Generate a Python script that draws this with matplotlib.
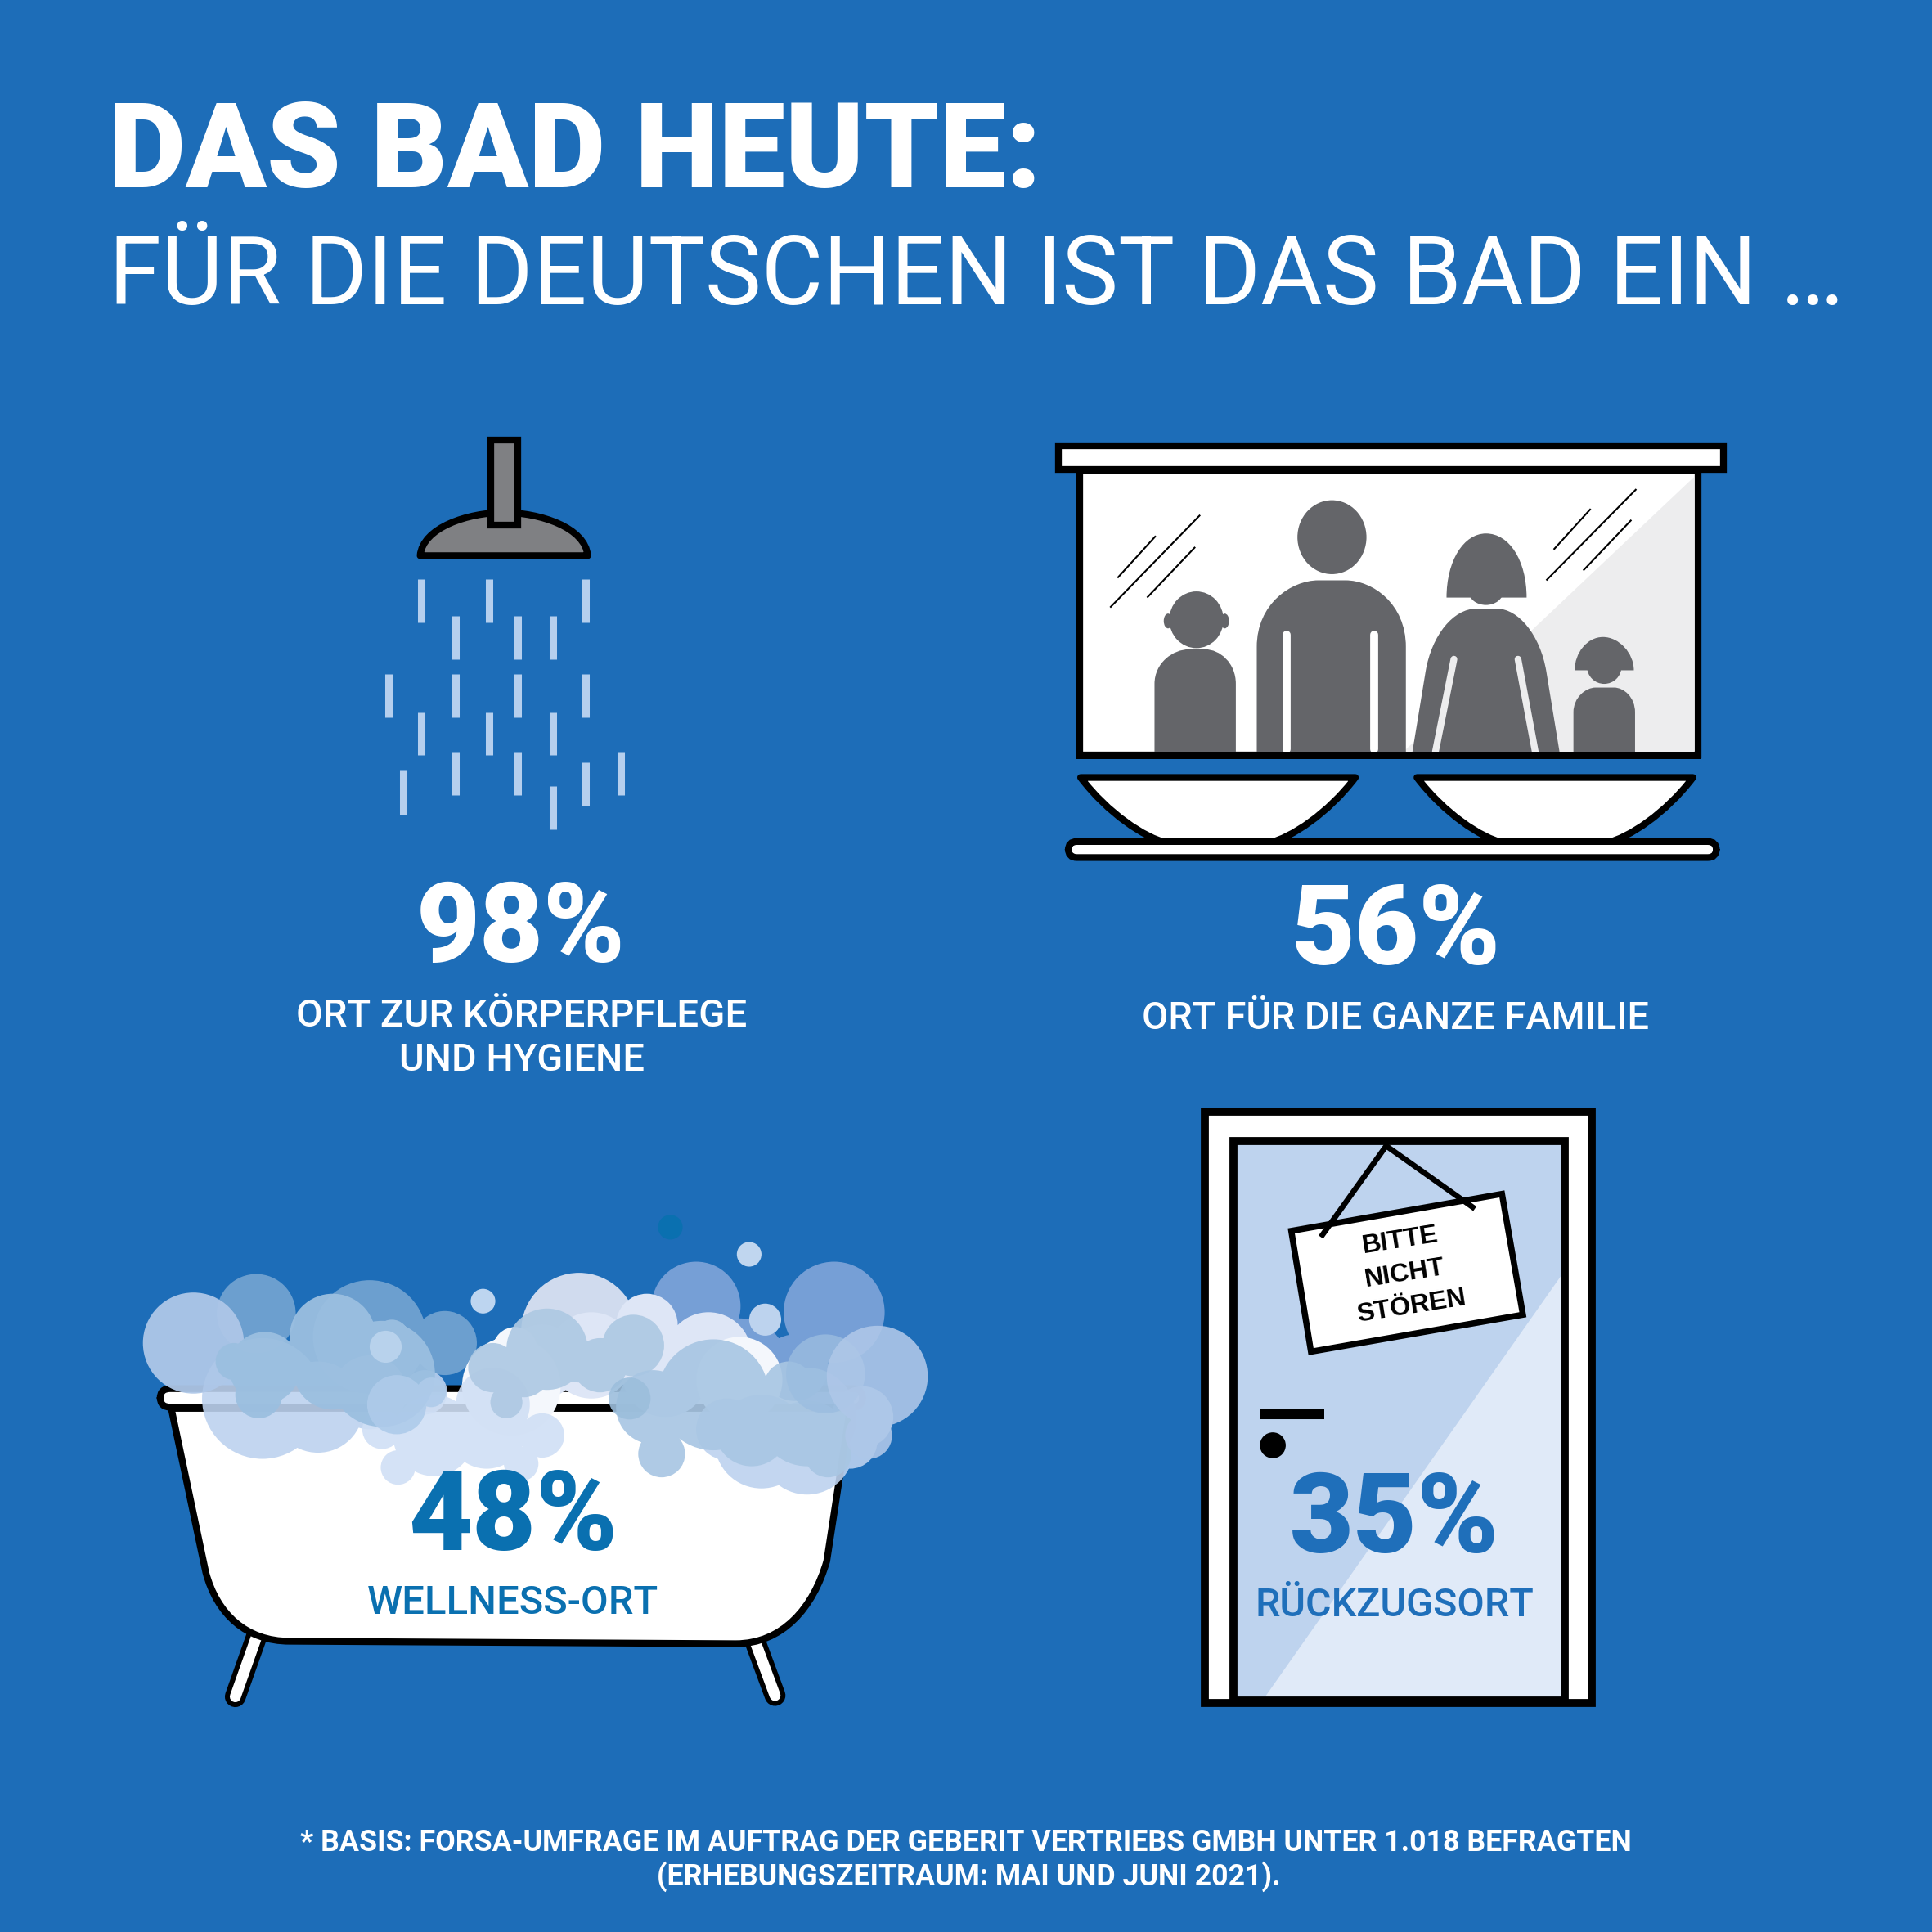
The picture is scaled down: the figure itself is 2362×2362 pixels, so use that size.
import matplotlib
matplotlib.use("Agg")
import matplotlib.pyplot as plt
from matplotlib.patches import Polygon, Ellipse, Rectangle, FancyBboxPatch, PathPatch, Circle
from matplotlib.path import Path

# ---- content -------------------------------------------------------------
percent_values = [98, 56, 48, 35]
category_lines = [["ORT ZUR KÖRPERPFLEGE", "UND HYGIENE"], ["ORT FÜR DIE GANZE FAMILIE"], ["WELLNESS-ORT"], ["RÜCKZUGSORT"]]
title_text = "DAS BAD HEUTE:"
subtitle_text = "FÜR DIE DEUTSCHEN IST DAS BAD EIN …"
footnote_lines = ["* BASIS: FORSA-UMFRAGE IM AUFTRAG DER GEBERIT VERTRIEBS GMBH UNTER 1.018 BEFRAGTEN",
                  "(ERHEBUNGSZEITRAUM: MAI UND JUNI 2021)."]
sign_lines = ["BITTE", "NICHT", "STÖREN"]

BG = "#1D6DB8"
K = "#000000"
GR = "#646569"
S = 2362 / 1568
def pt(w):
    return w * S * 0.72

fig = plt.figure(figsize=(23.62, 23.62), dpi=100, facecolor=BG)
ax = fig.add_axes([0, 0, 1, 1])
ax.set_xlim(0, 1568); ax.set_ylim(1568, 0); ax.axis("off")
rend = fig.canvas.get_renderer()

def fit_text(s, x0, x1, base, color="white", weight="bold", family="Roboto", start=40):
    t = ax.text((x0 + x1) / 2, base, s, color=color, fontweight=weight, family=family,
                ha="center", va="baseline", fontsize=start, zorder=20)
    w = t.get_window_extent(rend).width / S
    t.set_fontsize(start * (x1 - x0) / w)
    return t

def poly(pts, fc, ec="none", lw=0, z=2):
    ax.add_patch(Polygon(pts, closed=True, fc=fc, ec=ec, lw=pt(lw), zorder=z, joinstyle="miter"))

def rect(x0, y0, x1, y1, fc, ec="none", lw=0, z=2):
    ax.add_patch(Rectangle((x0, y0), x1 - x0, y1 - y0, fc=fc, ec=ec, lw=pt(lw), zorder=z, joinstyle="miter"))

def ell(cx, cy, w, h, fc, z=2):
    ax.add_patch(Ellipse((cx, cy), w, h, fc=fc, ec="none", zorder=z))

def line(xs, ys, c=K, w=5, z=3, cap="butt"):
    ax.plot(xs, ys, color=c, lw=pt(w), zorder=z, solid_capstyle=cap)

def curve(verts, codes, fc, ec="none", lw=0, z=2):
    ax.add_patch(PathPatch(Path(verts, codes), fc=fc, ec=ec, lw=pt(lw), zorder=z, joinstyle="round"))

M, L, C, Z = Path.MOVETO, Path.LINETO, Path.CURVE4, Path.CLOSEPOLY
BODY = [M, L, C, C, C, L, C, C, C, L, Z]
DOME = [M, C, C, C, C, C, C, L, Z]

# ---- shower ---------------------------------------------------------------
curve([(341, 451), (343, 428), (380, 416), (409, 416), (438, 416), (475, 428), (477, 451), (341, 451), (341, 451)],
      DOME, "#7F8083", K, 5.5)
rect(398, 357, 420, 426, "#7F8083", K, 5.5, z=3)
drops = [(342,470,505),(397,470,505),(475,470,505),(370,500,535),(420,500,535),(449,500,535),
         (315,547,582),(370,547,582),(420,547,582),(475,547,582),(342,578,613),(397,578,613),
         (449,578,613),(370,610,645),(420,610,645),(504,610,645),(327,625,661),(475,619,654),(449,638,673)]
for x, a, b in drops:
    line([x, x], [a, b], "#B5CFEE", 6)

# ---- mirror and family ----------------------------------------------------
rect(876, 382, 1378, 613, "white", K, 5.5, z=2)
poly([(1375, 387), (1138, 611), (1375, 611)], "#EDEDEE", z=2.1)
rect(859, 362, 1399, 381, "white", K, 5.5, z=6)
for a in [((907,938),(469,435)), ((901,974),(493,418)), ((931,970),(485,444)),
          ((1261,1291),(446,413)), ((1255,1328),(471,397)), ((1285,1324),(463,422))]:
    line(a[0], a[1], K, 1.4)
# father
ell(1081, 436, 56, 60, GR, z=3)
curve([(1020, 612), (1020, 525), (1020, 490), (1048, 471), (1070, 471), (1092, 471), (1114, 471), (1141, 490), (1141, 525), (1141, 612), (1020, 612)],
      BODY, GR, z=3)
for x in (1044, 1115):
    line([x, x], [515, 608], "white", 6.5, z=3.2, cap="round")
# left child
ell(971, 503, 44, 46, GR, z=3)
ell(948, 504, 7, 12, GR, z=3); ell(994, 504, 7, 12, GR, z=3)
curve([(937, 612), (937, 555), (937, 538), (952, 527), (965, 527), (978, 527), (990, 527), (1003, 538), (1003, 555), (1003, 612), (937, 612)],
      BODY, GR, z=3)
# mother
curve([(1174, 485), (1174, 455), (1188, 433), (1206, 433), (1225, 433), (1239, 455), (1239, 485), (1174, 485), (1174, 485)],
      DOME, GR, z=3)
ell(1206, 480, 28, 22, GR, z=3)
curve([(1146, 612), (1157, 545), (1162, 515), (1180, 494), (1198, 494), (1215, 494), (1232, 494), (1250, 515), (1255, 545), (1266, 612), (1146, 612)],
      BODY, GR, z=3)
line([1180, 1165], [535, 610], "#EDEDEE", 5.5, z=3.2, cap="round")
line([1232, 1246], [535, 610], "#EDEDEE", 5.5, z=3.2, cap="round")
# right child
curve([(1278, 544), (1278, 530), (1288, 517), (1301, 517), (1314, 517), (1326, 530), (1326, 544), (1278, 544), (1278, 544)],
      DOME, GR, z=3)
ell(1302, 541, 28, 28, GR, z=3)
curve([(1277, 612), (1277, 578), (1277, 566), (1287, 558), (1295, 558), (1310, 558), (1318, 558), (1327, 566), (1327, 578), (1327, 612), (1277, 612)],
      BODY, GR, z=3)
rect(873, 610, 1381, 616, K, z=4)
# sinks
for x0, x1 in ((877, 1100), (1150, 1374)):
    curve([(x0, 631), (x1, 631), (x1 - 22, 660), (x1 - 52, 680), (x1 - 70, 684), (x0 + 70, 684), (x0 + 52, 680), (x0 + 22, 660), (x0, 631), (x0, 631)],
          [M, L, C, C, C, L, C, C, C, Z], "white", K, 5.5, z=2)
ax.add_patch(FancyBboxPatch((867, 683), 526, 13, boxstyle="round,pad=0,rounding_size=7", fc="white", ec=K, lw=pt(5.5), zorder=4))

# ---- door -----------------------------------------------------------------
rect(978, 902, 1292, 1382, "white", K, 6.5, z=2)
rect(1001, 926, 1270, 1380, "#BED3EE", K, 6.5, z=3)
poly([(1267, 1035), (1267, 1377), (1027, 1377)], "#E0EAF8", z=3.1)
line([1022, 1075], [1148, 1148], K, 8, z=4)
ell(1033, 1173, 21, 21, K, z=4)
poly([(1048, 999), (1219, 969), (1236, 1067), (1064, 1097)], "white", K, 5, z=4)
line([1072, 1125, 1197], [1004, 930, 981], K, 4.5, z=5)
for s, x, y in zip(sign_lines, (1137, 1141, 1146), (1012, 1039, 1066)):
    ax.text(x, y, s, rotation=9, rotation_mode="anchor", ha="center", va="baseline", color=K,
            fontweight="bold", family="Liberation Sans", fontsize=pt(21.5), zorder=6)

# ---- tub ------------------------------------------------------------------
for (xa, ya), (xb, yb) in (((208, 1329), (191, 1377)), ((612, 1330), (629, 1376))):
    line([xa, xb], [ya, yb], K, 17, z=1.5, cap="round")
    line([xa, xb], [ya, yb], "white", 9, z=1.6, cap="round")
curve([(139, 1143), (167, 1276), (176, 1310), (200, 1332), (235, 1332), (597, 1334), (635, 1334), (660, 1305), (671, 1267), (690, 1143), (139, 1143)],
      BODY, "white", K, 5.5, z=2)
ax.add_patch(FancyBboxPatch((130, 1127), 570, 15, boxstyle="round,pad=0,rounding_size=8", fc="white", ec=K, lw=pt(5.5), zorder=2.5))

# foam clouds: each cloud is a merged group of circles (x, y, radius) with one colour
cloud_back_left = [(208, 1066, 32), (300, 1085, 46), (361, 1090, 26)]
cloud_back_right = [(565, 1060, 36), (677, 1065, 41), (645, 1110, 27), (600, 1110, 40)]
cloud_grey_white = [(470, 1080, 47)]
cloud_pale = [(525, 1075, 25), (575, 1100, 35), (440, 1105, 30), (480, 1100, 35), (540, 1115, 35)]
cloud_white_ring = [(415, 1125, 40), (600, 1120, 35), (418, 1095, 18)]
cloud_tub_left = [(213, 1135, 49), (258, 1142, 37), (300, 1130, 30), (345, 1130, 18)]
cloud_tub_mid = [(352, 1165, 33), (395, 1160, 32), (440, 1165, 18), (423, 1188, 14), (323, 1191, 14), (310, 1160, 16), (400, 1140, 30)]
cloud_tub_right = [(618, 1170, 38), (655, 1175, 38), (700, 1150, 25), (690, 1170, 22), (590, 1160, 25)]
cloud_left_big = [(157, 1090, 41)]
cloud_left_main = [(215, 1110, 29), (270, 1085, 35), (270, 1112, 32), (310, 1115, 43), (318, 1085, 14), (210, 1132, 19), (190, 1105, 15)]
cloud_left_low = [(322, 1140, 24), (350, 1130, 12)]
cloud_center = [(444, 1095, 33), (514, 1092, 25), (470, 1107, 15), (400, 1110, 20), (411, 1138, 13), (487, 1108, 22), (425, 1112, 22)]
cloud_right_main = [(579, 1132, 45), (530, 1142, 30), (537, 1180, 19), (655, 1150, 40), (610, 1160, 30), (672, 1180, 19), (640, 1125, 20)]
cloud_right_edge = [(712, 1117, 41), (705, 1165, 19)]
cloud_right_back = [(670, 1115, 32)]
cloud_dark_spot = [(511, 1135, 17)]
cloud_small_light = [(313, 1093, 13)]
cloud_drop_a = [(392, 1056, 10)]
cloud_drop_b = [(608, 1018, 10)]
cloud_drop_c = [(544, 996, 10)]
cloud_drop_d = [(621, 1071, 13)]

clouds = [(cloud_back_left, "#6C9FCF", 1), (cloud_back_right, "#769FD6", 1), (cloud_grey_white, "#D0DBEE", 1),
          (cloud_pale, "#DEE6F6", 1), (cloud_white_ring, "#F4F7FC", 1), (cloud_tub_left, "#BDD2EF", .9),
          (cloud_tub_mid, "#D0DFF5", .9), (cloud_tub_right, "#BDD2EF", .9), (cloud_left_big, "#AEC7E8", .95),
          (cloud_left_main, "#9BBFE0", .95), (cloud_left_low, "#AECBEA", .9), (cloud_center, "#AEC9E3", .92),
          (cloud_right_main, "#A8C6E3", .92), (cloud_right_back, "#9BBDE0", .8), (cloud_right_edge, "#AEC7E8", .9),
          (cloud_dark_spot, "#9CBEDC", .9), (cloud_small_light, "#B8D2EC", 1), (cloud_drop_a, "#BDD5F0", 1),
          (cloud_drop_b, "#C0D6EF", 1), (cloud_drop_c, "#0A70B0", 1), (cloud_drop_d, "#BDD3EE", 1)]
for i, (cl, col, al) in enumerate(clouds):
    paths = [Path.circle((x, y), r) for x, y, r in cl]
    ax.add_patch(PathPatch(Path.make_compound_path(*paths), fc=col, ec="none", alpha=al, zorder=7 + i * 0.01))

# ---- texts ----------------------------------------------------------------
fit_text(title_text, 88, 845, 152, weight="black", start=100)
fit_text(subtitle_text, 88, 1497, 247, weight="normal", start=90)
pct_spec = [(338, 508, 781, "white"), (1048, 1218, 783, "white"), (331, 501, 1258, "#0A70B0"), (1047, 1217, 1260, "#1F6FBA")]
for v, (a, b, y, c) in zip(percent_values, pct_spec):
    fit_text(f"{v}%", a, b, y, color=c, weight="black", start=70)
lab_spec = [[(241, 606, 833), (324, 523, 869)], [(927, 1338, 835)], [(298, 534, 1310)], [(1019, 1245, 1312)]]
lab_col = ["white", "white", "#0A70B0", "#1F6FBA"]
for lines, spec, c in zip(category_lines, lab_spec, lab_col):
    for s, (a, b, y) in zip(lines, spec):
        fit_text(s, a, b, y, color=c, weight="medium", start=30)
fit_text(footnote_lines[0], 242, 1326, 1502, weight="bold", start=25)
fit_text(footnote_lines[1], 533, 1040, 1530, weight="bold", start=25)

fig.savefig("out.png", dpi=100, facecolor=BG)
